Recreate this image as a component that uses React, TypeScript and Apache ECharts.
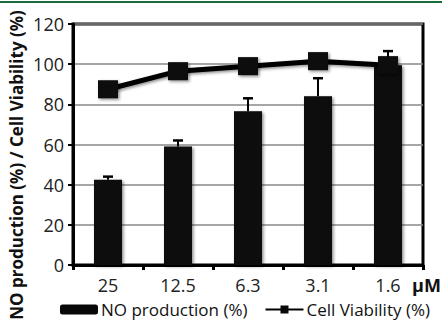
import React, { useEffect, useRef } from "react";
import * as echarts from "echarts";

const categories = ["25", "12.5", "6.3", "3.1", "1.6"];
const noProduction = [42.5, 59, 76.5, 84, 99.5];
const noError = [1.5, 3, 6.5, 9, 7];
const cellViability = [87.5, 96.5, 99, 101.5, 99.5];
const yMin = 0;
const yMax = 120;
const yInterval = 20;
const seriesNames = ["NO production (%)", "Cell Viability (%)"];
const yTitle = "NO production (%) / Cell Viability (%)";
const unitLabel = "µM";

const FONT = "'Open Sans', 'Liberation Sans', sans-serif";

export default function App() {
  const ref = useRef<HTMLDivElement>(null);
  useEffect(() => {
    if (!ref.current) return;
    const chart = echarts.init(ref.current, undefined, { renderer: "svg" });
    const shadow = {
      shadowBlur: 3,
      shadowColor: "rgba(0,0,0,0.45)",
      shadowOffsetX: 1.5,
      shadowOffsetY: 1.5,
    };
    chart.setOption({
      animation: false,
      backgroundColor: "#fff",
      textStyle: { fontFamily: FONT },
      grid: {
        left: 73,
        right: 19,
        top: 24,
        bottom: 55,
        show: true,
        borderColor: "#000",
        borderWidth: 3,
      },
      legend: {
        data: seriesNames,
        left: 55,
        top: 296,
        itemWidth: 38,
        itemHeight: 10,
        itemGap: 17,
        textStyle: { fontSize: 17, color: "#111", fontFamily: FONT, padding: [0, 0, 0, -2] },
      },
      xAxis: {
        type: "category",
        data: categories,
        axisLine: { lineStyle: { color: "#000", width: 3 } },
        axisTick: { show: true, length: 5, lineStyle: { color: "#000", width: 3 } },
        axisLabel: { fontSize: 18, color: "#222", margin: 11, fontFamily: FONT },
        splitLine: { show: false },
      },
      yAxis: {
        type: "value",
        min: yMin,
        max: yMax,
        interval: yInterval,
        axisLine: { show: true, lineStyle: { color: "#000", width: 3 } },
        axisTick: { show: true, length: 5, lineStyle: { color: "#000", width: 2 } },
        axisLabel: { fontSize: 18, color: "#222", margin: 9, fontFamily: FONT },
        splitLine: { lineStyle: { color: "#888", width: 1.5 } },
      },
      graphic: [
        {
          type: "line",
          shape: { x1: 0, y1: 2, x2: 442, y2: 2 },
          style: { stroke: "#1b6b3a", lineWidth: 2 },
        },
        {
          type: "text",
          x: 16,
          y: 165,
          rotation: Math.PI / 2,
          style: {
            text: yTitle,
            align: "center",
            verticalAlign: "middle",
            font: `bold 17px ${FONT}`,
            fill: "#111",
          },
        },
        {
          type: "text",
          x: 412,
          y: 285,
          style: {
            text: unitLabel,
            align: "left",
            verticalAlign: "middle",
            font: `bold 18px ${FONT}`,
            fill: "#111",
          },
        },
      ],
      series: [
        {
          name: seriesNames[0],
          type: "bar",
          data: noProduction,
          barWidth: "40%",
          itemStyle: { color: "#080808", ...shadow },
          z: 2,
        },
        {
          name: "error",
          type: "custom",
          data: categories.map((_, i) => [i, noProduction[i], noError[i]]),
          z: 3,
          renderItem: (params: any, api: any) => {
            const x = api.value(0);
            const v = api.value(1);
            const e = api.value(2);
            const top = api.coord([x, v + e]);
            const bot = api.coord([x, v]);
            const hw = 5;
            return {
              type: "group",
              children: [
                {
                  type: "line",
                  shape: { x1: top[0], y1: top[1], x2: bot[0], y2: bot[1] },
                  style: { stroke: "#000", lineWidth: 2 },
                },
                {
                  type: "line",
                  shape: { x1: top[0] - hw, y1: top[1], x2: top[0] + hw, y2: top[1] },
                  style: { stroke: "#000", lineWidth: 2.5 },
                },
              ],
            };
          },
        },
        {
          name: seriesNames[1],
          type: "line",
          data: cellViability,
          symbol: "rect",
          symbolSize: [20, 18],
          lineStyle: { color: "#000", width: 5, ...shadow },
          itemStyle: { color: "#080808", ...shadow },
          z: 4,
        },
      ],
    });
    return () => chart.dispose();
  }, []);
  return (
    <div
      ref={ref}
      style={{ position: "fixed", left: 0, top: 0, width: 442, height: 320 }}
    />
  );
}
